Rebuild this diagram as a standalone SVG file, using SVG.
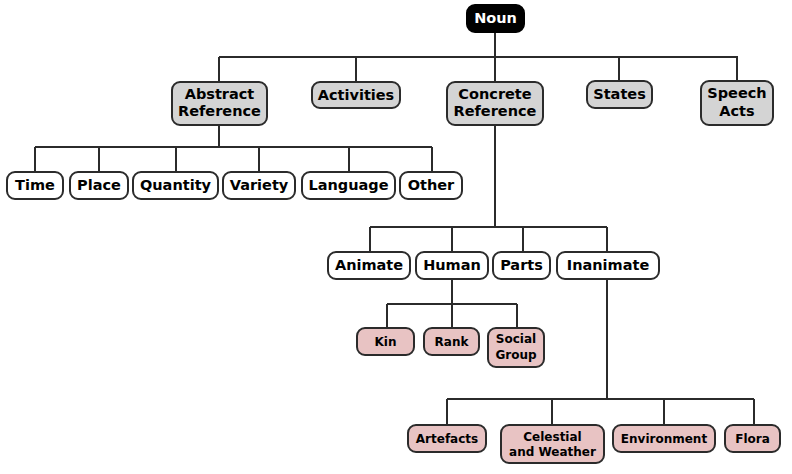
<svg xmlns="http://www.w3.org/2000/svg" width="792" height="474" viewBox="0 0 792 474">
<style>
rect{stroke:#2b2b2b;stroke-width:2}
.g rect{fill:#d4d4d4}
.w rect{fill:#fff}
.p rect{fill:#e8c3c3}
.k rect{fill:#000;stroke:#000}
text{font-family:"DejaVu Sans",Verdana,sans-serif;font-weight:bold;text-anchor:middle;fill:#000;font-size:14.5px}
.p text{font-size:12px}
.k text{fill:#fff}
#edges path{fill:none;stroke:#2b2b2b;stroke-width:2}
</style>
<rect x="0" y="0" width="792" height="474" style="fill:#fff;stroke:none"/>
<g id="edges">
<path d="M495 32V57M219 57H738M219 57V82M356 57V82M495 57V82M619 57V81M737 57V81"/>
<path d="M219 125V147M35 147H432M35 147V172M99 147V172M176 147V172M259 147V172M349 147V172M432 147V172"/>
<path d="M495 125V227M370 227H607M370 227V252M452 227V252M523 227V252M607 227V252"/>
<path d="M452 279V304M387 304H517M387 304V328M452 304V328M517 304V328"/>
<path d="M607 279V399M447 399H754M447 399V425M552 399V425M664 399V425M754 399V425"/>
</g>
<g id="noun" class="k"><rect x="467" y="5" width="57" height="27" rx="8"/><text x="495.5" y="23">Noun</text></g>
<g id="abstract" class="g"><rect x="172" y="82" width="95" height="43" rx="8"/><text x="219.5" y="98.5">Abstract</text><text x="219.5" y="116">Reference</text></g>
<g id="activities" class="g"><rect x="312" y="82" width="88" height="26" rx="8"/><text x="356" y="99.5">Activities</text></g>
<g id="concrete" class="g"><rect x="447" y="82" width="96" height="43" rx="8"/><text x="495" y="98.5">Concrete</text><text x="495" y="116">Reference</text></g>
<g id="states" class="g"><rect x="587" y="81" width="65" height="27" rx="8"/><text x="619.5" y="99">States</text></g>
<g id="speech" class="g"><rect x="701" y="81" width="72" height="44" rx="8"/><text x="737" y="98">Speech</text><text x="737" y="115.5">Acts</text></g>
<g id="time" class="w"><rect x="7" y="172" width="56" height="27" rx="8"/><text x="35" y="189.5">Time</text></g>
<g id="place" class="w"><rect x="70" y="172" width="58" height="27" rx="8"/><text x="99" y="189.5">Place</text></g>
<g id="quantity" class="w"><rect x="133" y="172" width="85" height="27" rx="8"/><text x="175.5" y="189.5">Quantity</text></g>
<g id="variety" class="w"><rect x="223" y="172" width="72" height="27" rx="8"/><text x="259" y="189.5">Variety</text></g>
<g id="language" class="w"><rect x="302" y="172" width="93" height="27" rx="8"/><text x="348.5" y="189.5">Language</text></g>
<g id="other" class="w"><rect x="400" y="172" width="62" height="27" rx="8"/><text x="431" y="189.5">Other</text></g>
<g id="animate" class="w"><rect x="328" y="252" width="82" height="27" rx="8"/><text x="369" y="269.5">Animate</text></g>
<g id="human" class="w"><rect x="416" y="252" width="72" height="27" rx="8"/><text x="452" y="269.5">Human</text></g>
<g id="parts" class="w"><rect x="493" y="252" width="57" height="27" rx="8"/><text x="521.5" y="269.5">Parts</text></g>
<g id="inanimate" class="w"><rect x="557" y="252" width="102" height="27" rx="8"/><text x="608" y="269.5">Inanimate</text></g>
<g id="kin" class="p"><rect x="357" y="328" width="57" height="27" rx="8"/><text x="385.5" y="345.5">Kin</text></g>
<g id="rank" class="p"><rect x="424" y="328" width="55" height="27" rx="8"/><text x="451.5" y="345.5">Rank</text></g>
<g id="social" class="p"><rect x="488" y="328" width="56" height="39" rx="8"/><text x="516" y="342.5">Social</text><text x="516" y="358.5">Group</text></g>
<g id="artefacts" class="p"><rect x="408" y="425" width="78" height="27" rx="8"/><text x="447" y="442.5">Artefacts</text></g>
<g id="celestial" class="p"><rect x="501" y="425" width="103" height="38" rx="8"/><text x="552.5" y="440.5">Celestial</text><text x="552.5" y="456">and Weather</text></g>
<g id="environment" class="p"><rect x="613" y="425" width="102" height="27" rx="8"/><text x="664" y="442.5">Environment</text></g>
<g id="flora" class="p"><rect x="725" y="425" width="55" height="27" rx="8"/><text x="752.5" y="442.5">Flora</text></g>
</svg>
